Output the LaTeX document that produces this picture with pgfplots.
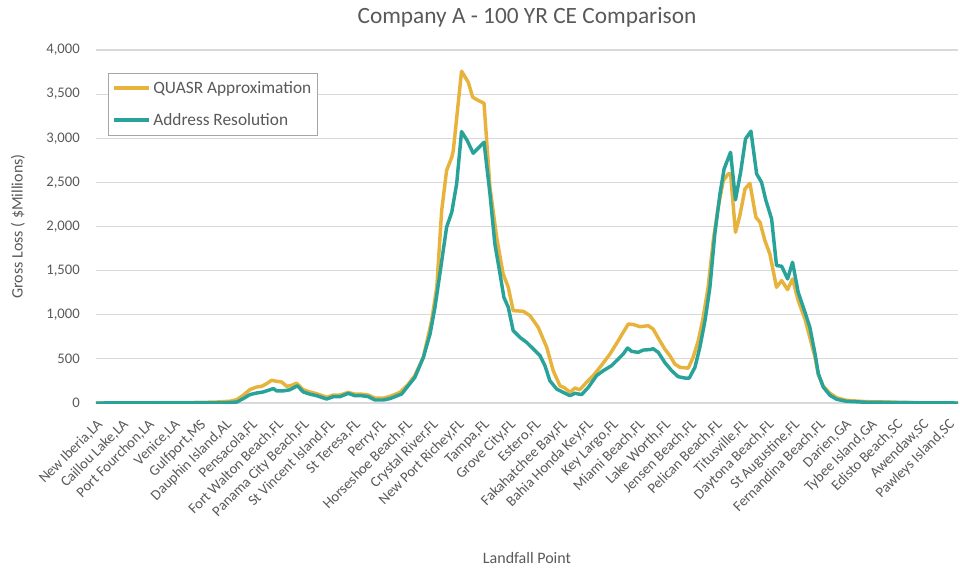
\documentclass[border=0pt]{standalone}
\usepackage{fontspec}
\setmainfont{Carlito}
\usepackage{pgfplots}
\pgfplotsset{compat=1.18}

\definecolor{quasr}{HTML}{E8B33C}
\definecolor{addr}{HTML}{29A39A}
\definecolor{txt}{HTML}{595959}
\definecolor{grd}{HTML}{D9D9D9}

% x is the landfall-point index
\pgfplotstableread{
x y
0 0
3.64 5
4.61 10
5.19 20
5.45 38
5.70 87
5.96 152
6.22 181
6.42 189
6.61 220
6.80 257
7.00 246
7.19 238
7.39 189
7.58 200
7.77 225
8.03 150
8.29 125
8.55 105
8.94 65
9.19 90
9.45 90
9.77 120
10.03 100
10.29 100
10.55 90
10.81 55
11.13 55
11.39 75
11.77 120
12.06 200
12.35 310
12.68 517
13.00 933
13.20 1311
13.39 2180
13.58 2634
13.78 2785
13.84 2860
14.16 3760
14.42 3635
14.59 3465
14.81 3428
15.03 3397
15.26 2445
15.52 1878
15.77 1463
15.97 1311
16.16 1047
16.55 1039
16.81 990
17.13 857
17.46 630
17.71 366
17.97 196
18.16 170
18.36 120
18.55 170
18.74 150
19.00 234
19.26 310
19.52 404
19.91 555
20.23 706
20.42 800
20.62 895
20.81 890
21.07 865
21.39 876
21.58 838
21.84 706
22.03 612
22.23 536
22.42 442
22.62 404
22.94 395
23.13 517
23.33 706
23.52 970
23.71 1311
23.91 1840
24.10 2218
24.30 2520
24.49 2596
24.58 2600
24.77 1934
24.94 2124
25.14 2426
25.33 2490
25.56 2105
25.72 2048
25.91 1840
26.10 1690
26.36 1311
26.56 1387
26.79 1285
26.98 1406
27.20 1160
27.46 953
27.65 744
27.85 520
27.98 320
28.17 190
28.43 110
28.69 60
29.07 30
29.85 15
31.14 8
31.91 3
32.49 0
33.39 0
}\quasr

\pgfplotstableread{
x y
0 0
5.00 3
5.45 11
5.70 49
5.96 95
6.22 113
6.48 125
6.67 144
6.87 163
7.00 137
7.25 137
7.51 150
7.80 195
8.03 125
8.29 100
8.55 83
8.94 45
9.19 72
9.45 72
9.77 109
10.03 83
10.29 83
10.55 72
10.81 34
11.13 34
11.39 50
11.84 102
12.35 290
12.68 517
12.94 782
13.13 1084
13.32 1463
13.58 1991
13.78 2161
13.97 2483
14.16 3076
14.38 2974
14.61 2830
15.03 2955
15.26 2370
15.45 1803
15.65 1463
15.80 1197
15.97 1084
16.16 820
16.42 744
16.68 687
16.94 612
17.20 536
17.39 423
17.58 253
17.84 159
18.10 120
18.36 83
18.55 110
18.81 95
19.07 177
19.39 310
19.65 366
19.97 423
20.23 498
20.42 555
20.59 623
20.75 585
21.00 574
21.20 600
21.46 605
21.58 615
21.78 574
22.03 460
22.30 366
22.55 298
22.81 283
22.98 283
23.20 404
23.39 630
23.59 933
23.78 1311
23.97 1916
24.17 2370
24.33 2653
24.58 2841
24.77 2302
24.97 2615
25.16 2993
25.37 3080
25.59 2596
25.78 2501
25.95 2294
26.17 2086
26.36 1557
26.56 1550
26.79 1406
26.98 1595
27.20 1254
27.46 1030
27.65 860
27.85 560
27.98 333
28.17 181
28.43 87
28.69 42
29.07 19
29.85 8
31.14 5
31.91 2
33.39 0
}\addr

\begin{document}
\begin{tikzpicture}
\begin{axis}[
    scale only axis,
    width=646.5pt, height=264.75pt,
    xmin=0, xmax=33.39,
    ymin=0, ymax=4000,
    clip mode=individual,
    axis line style={draw=none},
    major tick length=0pt,
    ymajorgrids,
    grid style={grd, line width=0.9pt},
    ytick={0,500,...,4000},
    xtick={0,...,33},
    xticklabels={{New Iberia,LA},{Caillou Lake,LA},{Port Fourchon,LA},{Venice,LA},{Gulfport,MS},{Dauphin Island,AL},{Pensacola,FL},{Fort Walton Beach,FL},{Panama City Beach,FL},{St Vincent Island,FL},{St Teresa,FL},{Perry,FL},{Horseshoe Beach,FL},{Crystal River,FL},{New Port Richey,FL},{Tampa,FL},{Grove City,FL},{Estero,FL},{Fakahatchee Bay,FL},{Bahia Honda Key,FL},{Key Largo,FL},{Miami Beach,FL},{Lake Worth,FL},{Jensen Beach,FL},{Pelican Beach,FL},{Titusville,FL},{Daytona Beach,FL},{St Augustine,FL},{Fernandina Beach,FL},{Darien,GA},{Tybee Island,GA},{Edisto Beach,SC},{Awendaw,SC},{Pawleys Island,SC}},
    xticklabel shift=11pt,
    xticklabel style={rotate=45, anchor=north east, inner sep=0pt, font=\fontsize{11}{13}\selectfont, text=txt},
    yticklabel style={anchor=east, inner sep=0pt, xshift=-12pt, font=\fontsize{11}{13}\selectfont, text=txt},
    /pgf/number format/assume math mode=true,
    /pgf/number format/1000 sep={,},
    scaled y ticks=false,
    legend cell align=left,
    legend style={at={(axis description cs:0,1)}, anchor=north west, xshift=9pt, yshift=-17pt,
      draw=gray!70, line width=0.8pt, fill=white, font=\fontsize{13}{15}\selectfont, text=txt,
      inner xsep=3pt, inner ysep=4pt, row sep=9.5pt},
    legend image code/.code={\draw[#1] (0pt,0pt) -- (26pt,0pt);},
    every axis plot/.append style={line width=2.6pt, line join=round, mark=none},
]
\addplot[quasr] table[x=x, y=y] {\quasr};
\addplot[addr] table[x=x, y=y] {\addr};
\legend{QUASR Approximation, Address Resolution}

\node[font=\fontsize{17.5}{20}\selectfont, text=txt] at ([yshift=24.75pt]axis description cs:0.5,1) {Company A - 100 YR CE Comparison};
\node[rotate=90, font=\fontsize{12}{14}\selectfont, text=txt] at ([xshift=-58.5pt]axis description cs:0,0.5) {Gross Loss ( \$Millions)};
\node[font=\fontsize{12}{14}\selectfont, text=txt] at ([yshift=-116pt]axis description cs:0.5,0) {Landfall Point};
\end{axis}
\path ([xshift=-72pt,yshift=-128.25pt]current axis.south west) rectangle ([xshift=1.5pt,yshift=37.5pt]current axis.north east);
\end{tikzpicture}
\end{document}
